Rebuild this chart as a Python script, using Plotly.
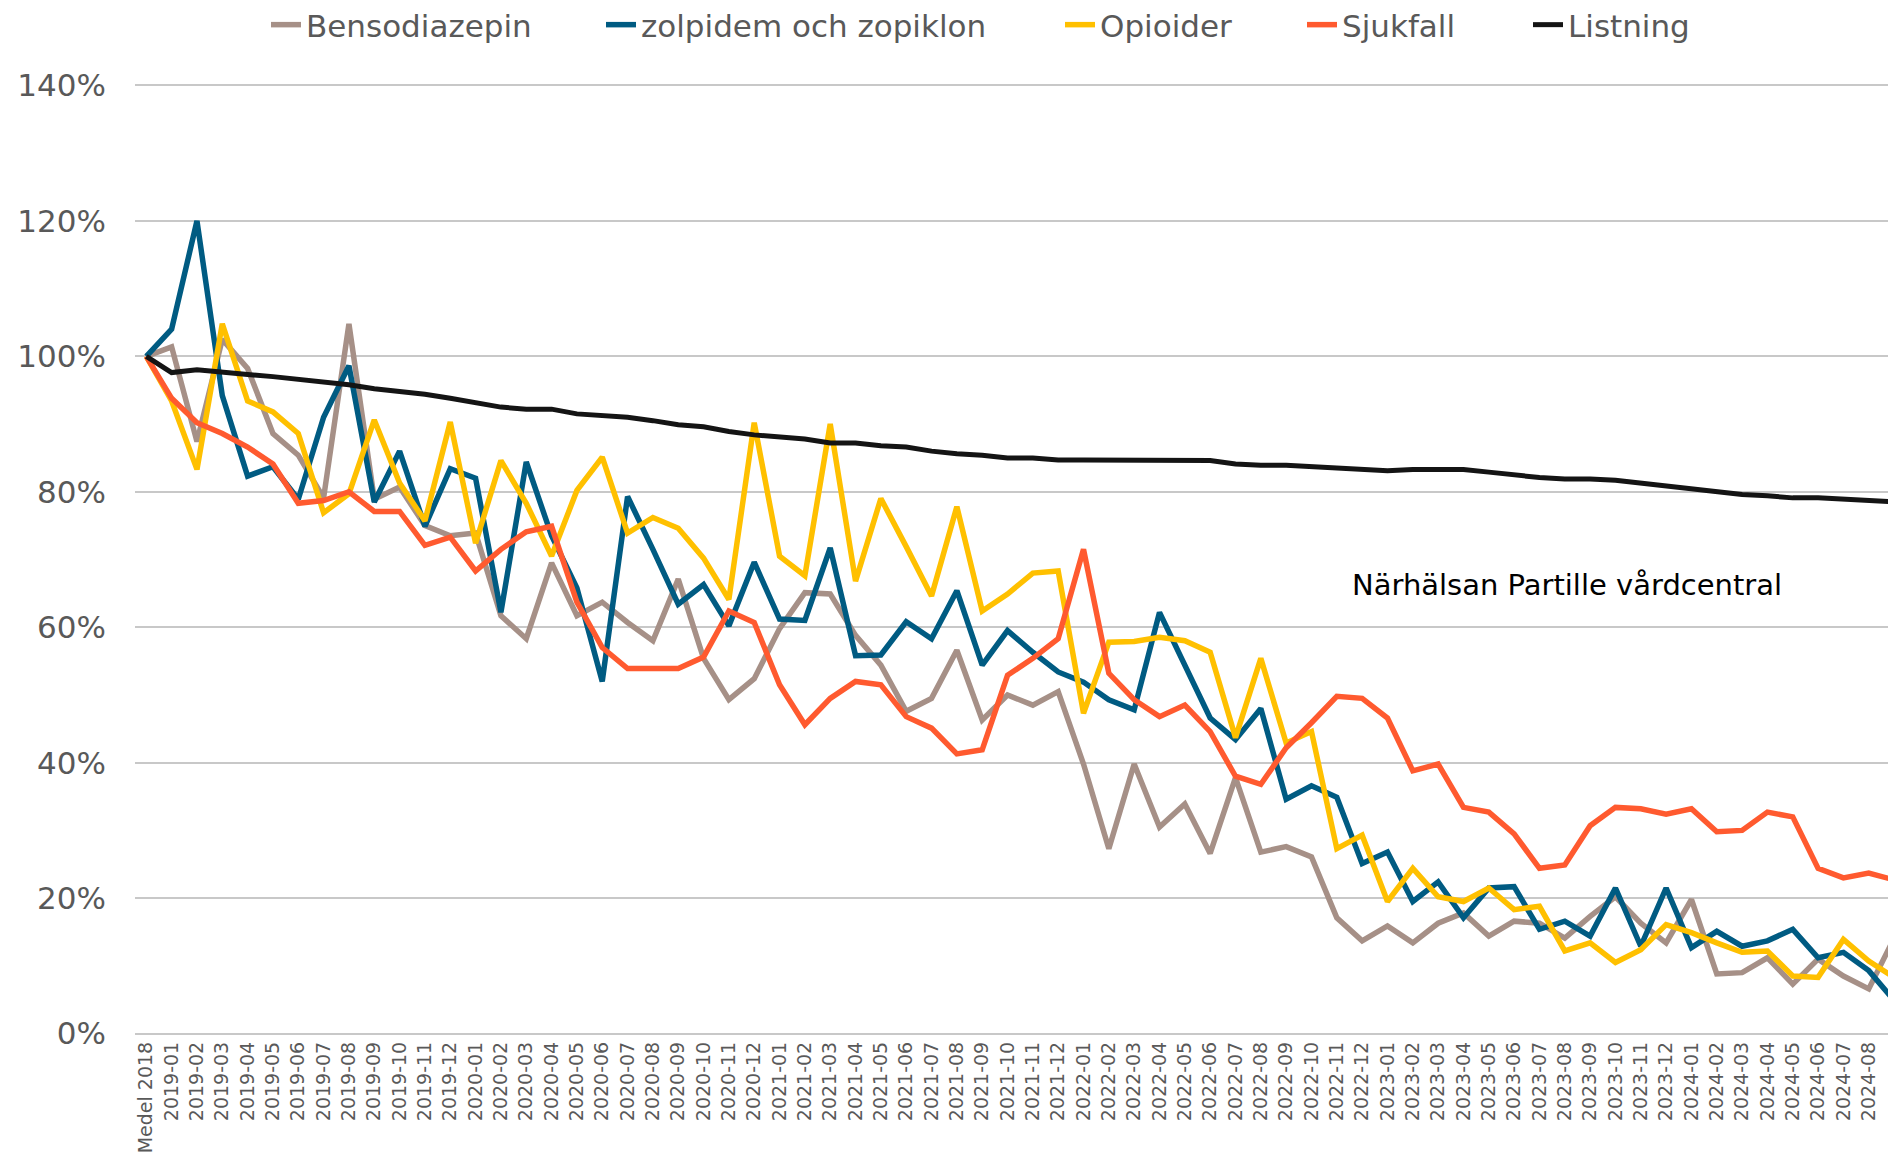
import plotly.graph_objects as go

categories = [
    "Medel 2018",
    "2019-01", "2019-02", "2019-03", "2019-04", "2019-05", "2019-06",
    "2019-07", "2019-08", "2019-09", "2019-10", "2019-11", "2019-12",
    "2020-01", "2020-02", "2020-03", "2020-04", "2020-05", "2020-06",
    "2020-07", "2020-08", "2020-09", "2020-10", "2020-11", "2020-12",
    "2021-01", "2021-02", "2021-03", "2021-04", "2021-05", "2021-06",
    "2021-07", "2021-08", "2021-09", "2021-10", "2021-11", "2021-12",
    "2022-01", "2022-02", "2022-03", "2022-04", "2022-05", "2022-06",
    "2022-07", "2022-08", "2022-09", "2022-10", "2022-11", "2022-12",
    "2023-01", "2023-02", "2023-03", "2023-04", "2023-05", "2023-06",
    "2023-07", "2023-08", "2023-09", "2023-10", "2023-11", "2023-12",
    "2024-01", "2024-02", "2024-03", "2024-04", "2024-05", "2024-06",
    "2024-07", "2024-08", "2024-09",
]

bensodiazepin = [
    100, 101.4, 87.4, 102.5, 98.2, 88.6, 85.4, 79.1, 104.8, 78.9, 80.7, 75.0, 73.5,
    73.9, 61.7, 58.3, 69.5, 61.7, 63.7, 60.7, 58.0, 67.1, 55.4, 49.3, 52.4,
    59.8, 65.1, 64.9, 58.8, 54.4, 47.6, 49.5, 56.6, 46.3, 50.0, 48.5, 50.5,
    39.8, 27.3, 39.8, 30.5, 33.9, 26.6, 37.8, 26.8, 27.6, 26.1, 17.1, 13.7,
    15.9, 13.4, 16.3, 17.8, 14.4, 16.6, 16.3, 14.1, 17.3, 20.2, 16.3, 13.4,
    19.8, 8.8, 9.0, 11.2, 7.3, 11.0, 8.5, 6.6, 14.1,
]

zolpidem = [
    100, 104.0, 120.0, 94.2, 82.3, 83.7, 78.9, 91.0, 98.6, 78.5, 86.0, 74.9, 83.4,
    82.0, 62.2, 84.4, 73.5, 65.8, 52.0, 79.3, 71.5, 63.4, 66.3, 60.2, 69.6,
    61.2, 61.0, 71.7, 55.8, 55.9, 60.8, 58.3, 65.4, 54.4, 59.5, 56.3, 53.4,
    51.9, 49.3, 47.8, 62.2, 54.4, 46.6, 43.4, 48.0, 34.6, 36.6, 34.9, 25.1,
    26.8, 19.5, 22.4, 17.1, 21.5, 21.7, 15.4, 16.6, 14.4, 21.5, 12.9, 21.5,
    12.7, 15.1, 12.9, 13.7, 15.4, 11.2, 12.0, 9.3, 4.9,
]

opioider = [
    100, 93.4, 83.3, 104.8, 93.4, 91.8, 88.6, 76.9, 79.7, 90.6, 81.3, 75.7, 90.3,
    72.4, 84.6, 78.3, 70.5, 80.2, 85.1, 73.9, 76.2, 74.6, 70.2, 64.1, 90.2,
    70.5, 67.6, 90.0, 66.8, 79.0, 71.9, 64.6, 77.8, 62.4, 64.9, 68.0, 68.3,
    47.3, 57.8, 57.9, 58.5, 58.0, 56.3, 43.7, 55.4, 42.9, 44.6, 27.3, 29.3,
    19.5, 24.4, 20.2, 19.5, 21.5, 18.3, 18.8, 12.2, 13.4, 10.5, 12.4, 16.1,
    14.9, 13.4, 12.0, 12.2, 8.5, 8.3, 13.9, 10.7, 8.3,
]

sjukfall = [
    100, 93.8, 90.2, 88.6, 86.6, 84.1, 78.3, 78.7, 80.0, 77.1, 77.1, 72.1, 73.3,
    68.3, 71.5, 74.1, 74.9, 63.7, 57.0, 53.9, 53.9, 53.9, 55.6, 62.4, 60.7,
    51.5, 45.6, 49.5, 52.0, 51.5, 46.8, 45.1, 41.3, 41.9, 52.9, 55.4, 58.3,
    71.5, 53.2, 49.3, 46.8, 48.5, 44.6, 38.0, 36.8, 42.2, 45.9, 49.8, 49.5,
    46.6, 38.8, 39.8, 33.4, 32.7, 29.5, 24.4, 24.9, 30.7, 33.4, 33.2, 32.4,
    33.2, 29.8, 30.0, 32.7, 32.0, 24.4, 23.0, 23.7, 22.7,
]

listning = [
    100, 97.6, 98.0, 97.6, 97.3, 97.0, 96.6, 96.2, 95.8, 95.2, 94.8, 94.4, 93.8,
    93.2, 92.5, 92.2, 92.2, 91.5, 91.2, 91.0, 90.5, 89.9, 89.6, 88.9, 88.4,
    88.1, 87.8, 87.2, 87.2, 86.8, 86.6, 86.0, 85.6, 85.4, 85.0, 85.0, 84.7,
    84.7, 84.7, 84.7, 84.6, 84.6, 84.6, 84.1, 83.9, 83.9, 83.7, 83.5, 83.3,
    83.1, 83.3, 83.3, 83.3, 82.9, 82.5, 82.1, 81.9, 81.9, 81.7, 81.3, 80.8,
    80.4, 80.0, 79.6, 79.4, 79.1, 79.1, 78.9, 78.7, 78.5,
]

series_names = ["Bensodiazepin", "zolpidem och zopiklon", "Opioider", "Sjukfall", "Listning"]
series_values = [bensodiazepin, zolpidem, opioider, sjukfall, listning]
series_colors = ["#A69087", "#005B82", "#FFC000", "#FF5A2F", "#141414"]
series_widths = [5.5, 5.5, 5.5, 5.5, 5]
legend_ids = ["legend", "legend2", "legend3", "legend4", "legend5"]
legend_text_x = [306, 641, 1100, 1342, 1568]  # screen px where legend text starts

y_tickvals = [0, 20, 40, 60, 80, 100, 120, 140]
y_ticktext = ["0%", "20%", "40%", "60%", "80%", "100%", "120%", "140%"]
annotation_text = "Närhälsan Partille vårdcentral"

FONT = "DejaVu Sans"
GRAY = "#595959"
W, H = 1880, 1145
OFF = 8  # body margin of the page
PAD = 0.5  # y-range padding so 0% and 140% gridlines are drawn
PLOT_TOP, PLOT_BOTTOM = 85, 1046
PX_PER_UNIT = (PLOT_BOTTOM - PLOT_TOP) / 140

fig = go.Figure()
for name, vals, col, lw, lg in zip(series_names, series_values, series_colors, series_widths, legend_ids):
    fig.add_trace(go.Scatter(
        x=categories, y=vals, mode="lines", name=name,
        line=dict(color=col, width=lw), legend=lg,
    ))

legends = {}
for lg, tx in zip(legend_ids, legend_text_x):
    legends[lg] = dict(
        orientation="h", xref="container", yref="container",
        x=(tx - 40 - OFF) / W, xanchor="left",
        y=1 - (25 - OFF) / H, yanchor="middle",
        font=dict(family=FONT, size=31, color=GRAY),
        bgcolor="rgba(0,0,0,0)", borderwidth=0,
    )

top_px = PLOT_TOP - OFF - PAD * PX_PER_UNIT
bot_px = H - (PLOT_BOTTOM - OFF) - PAD * PX_PER_UNIT

fig.update_layout(
    width=W, height=H,
    margin=dict(l=135 - OFF, r=0, t=top_px, b=bot_px, pad=0),
    paper_bgcolor="white", plot_bgcolor="white",
    font=dict(family=FONT, color=GRAY),
    showlegend=True,
    **legends,
)

fig.update_xaxes(
    type="category", range=[-0.446, 68.76],
    tickangle=-90, tickfont=dict(family=FONT, size=19, color=GRAY),
    showgrid=False, showline=False, ticks="", zeroline=False,
)
fig.update_yaxes(
    range=[-PAD, 140 + PAD], tickmode="array",
    tickvals=y_tickvals, ticktext=y_ticktext,
    tickfont=dict(family=FONT, size=31, color=GRAY),
    showgrid=True, gridcolor="#C8C8C8", gridwidth=2,
    zeroline=False,
    showline=False, ticks="", ticklabelstandoff=28,
)

span = PLOT_BOTTOM - PLOT_TOP
fig.add_annotation(
    text=annotation_text, xref="paper", yref="paper",
    x=(1350 - 135) / (1888 - 135),
    y=(PLOT_BOTTOM - 591 + PAD * PX_PER_UNIT) / (span + 2 * PAD * PX_PER_UNIT),
    xanchor="left", yanchor="middle", showarrow=False,
    font=dict(family=FONT, size=29, color="#000000"),
)

fig.write_html("out.html")
